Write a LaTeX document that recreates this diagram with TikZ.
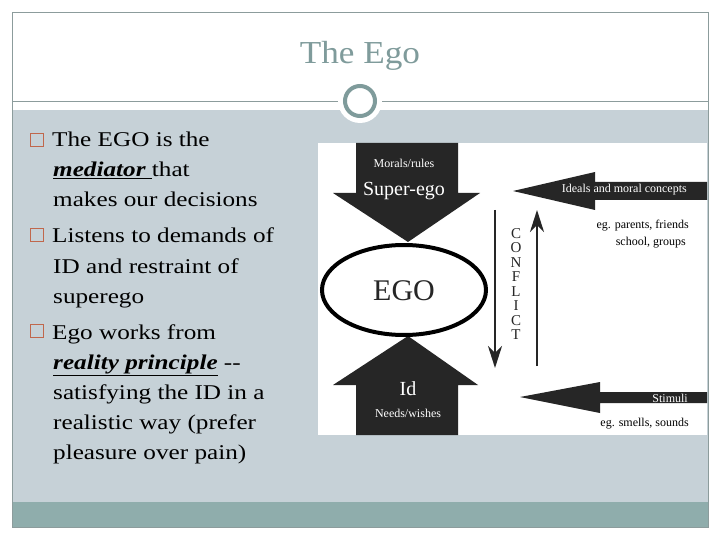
\documentclass[tikz,border=0pt]{standalone}
\usepackage{fontspec}
\usetikzlibrary{shapes.geometric,arrows.meta}
\setmainfont{Liberation Serif}
\newfontfamily\bodyfont[FakeStretch=1.2]{Liberation Serif}
\newfontfamily\ttlfont[FakeStretch=1.1]{Liberation Serif}
\definecolor{panel}{HTML}{C6D1D7}
\definecolor{bar}{HTML}{8FADAC}
\definecolor{ttl}{HTML}{7F9B9B}
\definecolor{frm}{HTML}{8C9C9C}
\definecolor{blt}{HTML}{C0674C}
\definecolor{dk}{HTML}{262626}
\begin{document}
\begin{tikzpicture}[x=1pt,y=-1pt,
  body/.style={anchor=base west,inner sep=0pt,font=\bodyfont\fontsize{21}{21}\selectfont},
  bul/.style={draw=blt,line width=1.2pt,minimum size=13pt,inner sep=0pt},
  small/.style={font=\fontsize{12}{12}\selectfont,inner sep=0pt}]
\useasboundingbox (0,0) rectangle (720,540);
\fill[white] (0,0) rectangle (720,540);
\fill[panel] (12,110) rectangle (708,502);
\fill[bar] (12,502) rectangle (708,527);
\draw[frm,line width=0.8pt] (12,12) rectangle (708,527);
\draw[frm,line width=0.8pt] (12,101) -- (708,101);
\node[font=\ttlfont\fontsize{32}{32}\selectfont,text=ttl] (title) at (360,56) {The Ego};
\node[circle,fill=white,minimum size=44pt,inner sep=0pt] (cw) at (360,101) {};
\node[circle,draw=ttl,line width=4pt,fill=white,minimum size=30pt,inner sep=0pt] (cc) at (360,101) {};
% bullets
\node[bul] (b1) at (37,140) {};
\node[bul] (b2) at (37,235) {};
\node[bul] (b3) at (37,331) {};
\node[body] (t1) at (52,147) {The EGO is the};
\node[body] (t2) at (53,177) {\textbf{\textit{\underline{mediator }}}that};
\node[body] (t3) at (53,207) {makes our decisions};
\node[body] (t4) at (52,243) {Listens to demands of};
\node[body] (t5) at (53,273) {ID and restraint of};
\node[body] (t6) at (53,303) {superego};
\node[body] (t7) at (52,339) {Ego works from};
\node[body] (t8) at (53,369) {\textbf{\textit{\underline{reality principle}}} --};
\node[body] (t9) at (53,399) {satisfying the ID in a};
\node[body] (t10) at (53,429) {realistic way (prefer};
\node[body] (t11) at (53,459) {pleasure over pain)};
% image
\fill[white] (318,143) rectangle (707,435);
\fill[dk] (356,143) -- (458,143) -- (458,193) -- (480,193) -- (408,242) -- (333,193) -- (356,193) -- cycle;
\fill[dk] (356,435) -- (458,435) -- (458,385) -- (478,385) -- (408,336) -- (333,385) -- (356,385) -- cycle;
\node[ellipse,draw=black,line width=4pt,minimum width=164pt,minimum height=90pt] (ego) at (404,290) {};
\node[font=\fontsize{30}{30}\selectfont,text=dk] at (404,291) {EGO};
\node[small,text=white] (mr) at (404,163) {Morals/rules};
\node[font=\fontsize{20}{20}\selectfont,text=white] (se) at (404,191) {Super-ego};
\node[font=\fontsize{20}{20}\selectfont,text=white] (id) at (408,389) {Id};
\node[small,text=white] (nw) at (408,413) {Needs/wishes};
\fill[dk] (707,182) -- (595,182) -- (595,172) -- (513,191) -- (595,210) -- (595,200) -- (707,200) -- cycle;
\fill[dk] (707,392) -- (600,392) -- (600,382) -- (520,397) -- (600,413) -- (600,403) -- (707,403) -- cycle;
\node[small,text=white,anchor=east] (ideal) at (687,190) {Ideals and moral concepts};
\node[small,text=white,anchor=east] (stim) at (688,398) {Stimuli};
\node[small,anchor=east] (e1) at (689,226) {eg. parents, friends};
\node[small,anchor=east] (e2) at (686,243) {school, groups};
\node[small,anchor=east] (e3) at (689,424) {eg. smells, sounds};
\coordinate (d1) at (495,210); \coordinate (d2) at (495,368);
\coordinate (u1) at (537,366); \coordinate (u2) at (537,210);
\draw[dk,line width=2.5pt,-{Stealth[length=22pt,width=14pt,inset=7pt]}] (d1) -- (d2);
\draw[dk,line width=2.5pt,-{Stealth[length=22pt,width=14pt,inset=7pt]}] (u1) -- (u2);
\node[font=\fontsize{15}{14.5}\selectfont,align=center,text=dk,inner sep=0pt] (conf) at (516,284) {C\\O\\N\\F\\L\\I\\C\\T};
\end{tikzpicture}
\end{document}
